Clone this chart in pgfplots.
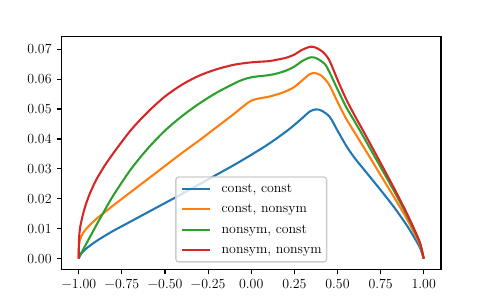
\documentclass[border=0pt]{standalone}
\usepackage{fontspec}
\usepackage{pgfplots}
\pgfplotsset{compat=1.18}
\definecolor{tabblue}{HTML}{1F77B4}
\definecolor{taborange}{HTML}{FF7F0E}
\definecolor{tabgreen}{HTML}{2CA02C}
\definecolor{tabred}{HTML}{D62728}
\newcommand\mplfont{\fontsize{13.9bp}{16.7bp}\selectfont}
\begin{document}
\begin{tikzpicture}
\useasboundingbox (0bp,0bp) rectangle (490bp,303bp);
\begin{axis}[
  at={(61.5bp,33.7bp)}, anchor=south west,
  scale only axis, width=379.5bp, height=232.8bp,
  xmin=-1.1, xmax=1.1, ymin=-0.00354, ymax=0.07424,
  axis line style={line width=1.11bp},
  tick align=outside, major tick length=4.86bp,
  every tick/.style={black, line width=1.11bp},
  xtick={-1,-0.75,-0.5,-0.25,0,0.25,0.5,0.75,1},
  xticklabels={−1.00,−0.75,−0.50,−0.25,0.00,0.25,0.50,0.75,1.00},
  ytick={0,0.01,0.02,0.03,0.04,0.05,0.06,0.07},
  yticklabels={0.00,0.01,0.02,0.03,0.04,0.05,0.06,0.07},
  xtick pos=bottom, ytick pos=left,
  scaled y ticks=false, scaled x ticks=false,
  tick label style={font=\mplfont, inner sep=0pt},
  xticklabel shift=4.86bp, yticklabel shift=4.86bp,
  legend cell align=left,
  legend style={at={(0.5,0.0288)}, anchor=south, draw=black!20, line width=1.39bp,
    rounded corners=2.8bp, fill=white, fill opacity=0.8, draw opacity=1, text opacity=1,
    font=\mplfont, inner xsep=5bp, inner ysep=6bp, row sep=7.9bp, column sep=10.7bp,
    nodes={inner sep=0pt, text height=9.6bp, text depth=2.7bp}},
  legend image code/.code={\draw[#1] (0bp,0bp) -- (28bp,0bp);},
  every axis plot/.append style={line width=2.08bp, line join=round},
]
\addplot[tabblue, smooth] coordinates {
(-1,0) (-0.998,0.0005) (-0.99,0.0013) (-0.975,0.0024) (-0.95,0.0037) (-0.9,0.0058)
(-0.85,0.0076) (-0.8,0.0093) (-0.7,0.0124) (-0.6,0.0155) (-0.5,0.0186) (-0.4,0.0217)
(-0.3,0.0249) (-0.2,0.0281) (-0.1,0.0313) (0,0.0347) (0.1,0.0383) (0.2,0.0424)
(0.25,0.0447) (0.3,0.0472) (0.34,0.0492) (0.375,0.0499) (0.41,0.0494) (0.456,0.0473)
(0.5,0.0428) (0.553,0.0375) (0.6,0.0336) (0.649,0.0301) (0.7,0.0265) (0.745,0.0233)
(0.8,0.0193) (0.842,0.0161) (0.9,0.0113) (0.95,0.0066) (0.98,0.0034) (1,0)};
\addlegendentry{const, const}
\addplot[taborange, smooth] coordinates {
(-1,0) (-0.9998,0.0025) (-0.999,0.0042) (-0.995,0.0058) (-0.985,0.0075) (-0.97,0.009)
(-0.95,0.0104) (-0.9,0.0132) (-0.85,0.0155) (-0.8,0.0178) (-0.7,0.0222) (-0.6,0.0266)
(-0.5,0.031) (-0.4,0.0354) (-0.3,0.0396) (-0.2,0.044) (-0.1,0.0484) (-0.04,0.0512)
(0,0.0528) (0.05,0.0536) (0.1,0.0541) (0.15,0.0549) (0.2,0.0559) (0.25,0.0574)
(0.3,0.0598) (0.34,0.0617) (0.37,0.062) (0.4,0.0614) (0.427,0.06) (0.456,0.0577)
(0.5,0.0524) (0.55,0.0468) (0.6,0.0421) (0.649,0.0375) (0.7,0.0327) (0.745,0.0284)
(0.8,0.0232) (0.842,0.0192) (0.9,0.0135) (0.95,0.008) (0.98,0.0043) (1,0)};
\addlegendentry{const, nonsym}
\addplot[tabgreen, smooth] coordinates {
(-1,0) (-0.995,0.0008) (-0.98,0.0025) (-0.96,0.0046) (-0.932,0.0076) (-0.9,0.011)
(-0.865,0.0146) (-0.8,0.0211) (-0.7,0.0297) (-0.6,0.0368) (-0.5,0.0428) (-0.4,0.0477)
(-0.3,0.0519) (-0.2,0.0555) (-0.1,0.0585) (-0.05,0.0598) (0,0.0606) (0.05,0.061)
(0.1,0.0613) (0.15,0.0619) (0.2,0.0628) (0.25,0.0642) (0.3,0.0662) (0.346,0.0673)
(0.38,0.0669) (0.427,0.065) (0.456,0.062) (0.5,0.0566) (0.55,0.0507) (0.6,0.0458)
(0.649,0.0409) (0.7,0.0357) (0.745,0.0311) (0.8,0.0255) (0.842,0.0211) (0.9,0.0148)
(0.95,0.0088) (0.98,0.0048) (1,0)};
\addlegendentry{nonsym, const}
\addplot[tabred, smooth] coordinates {
(-1,0) (-0.9998,0.0035) (-0.999,0.006) (-0.996,0.0085) (-0.991,0.0108) (-0.98,0.0137)
(-0.971,0.0158) (-0.952,0.0193) (-0.93,0.0225) (-0.9,0.0262) (-0.855,0.0306)
(-0.8,0.0352) (-0.7,0.0428) (-0.6,0.049) (-0.5,0.0542) (-0.4,0.0582) (-0.3,0.0612)
(-0.2,0.0633) (-0.1,0.0648) (0,0.0656) (0.1,0.066) (0.15,0.0665) (0.2,0.0671)
(0.25,0.0682) (0.292,0.0697) (0.34,0.0708) (0.37,0.0706) (0.4,0.0697) (0.427,0.0684)
(0.456,0.0659) (0.5,0.0598) (0.55,0.0533) (0.6,0.0478) (0.649,0.0427) (0.7,0.0373)
(0.745,0.0325) (0.8,0.0266) (0.842,0.022) (0.9,0.0154) (0.95,0.0092) (0.98,0.005) (1,0)};
\addlegendentry{nonsym, nonsym}
\end{axis}
\end{tikzpicture}
\end{document}
